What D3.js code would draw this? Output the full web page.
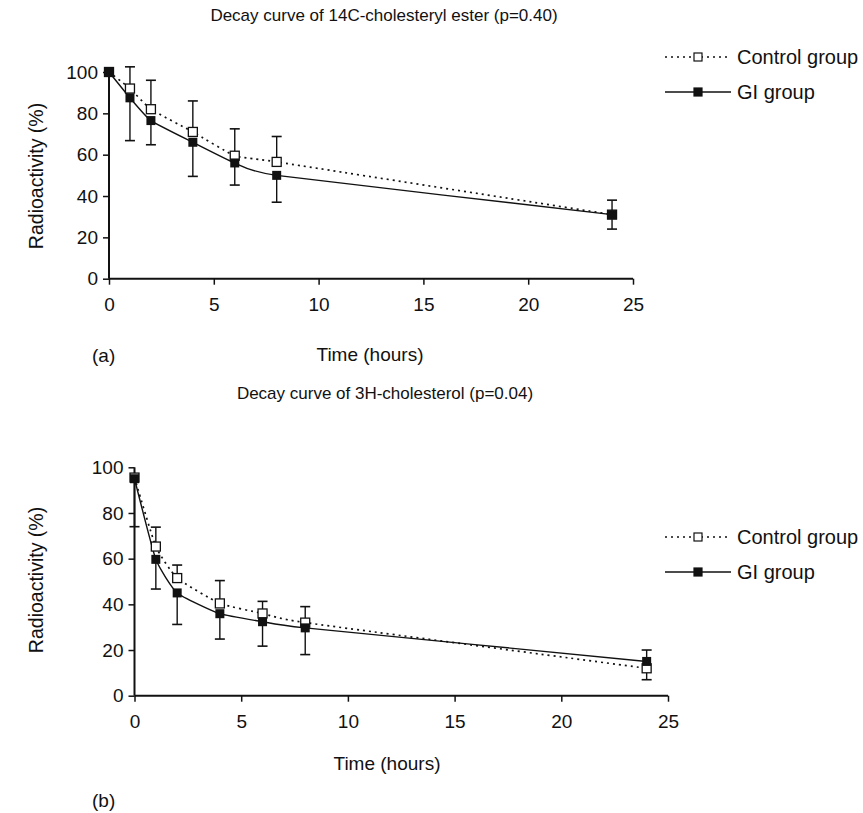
<!DOCTYPE html>
<html>
<head>
<meta charset="utf-8">
<script src="https://cdn.jsdelivr.net/npm/d3@7"></script>
<style>
  body { margin: 0; background: #fff; }
  svg text { font-family: "Liberation Sans", Arial, sans-serif; fill: #111; }
</style>
</head>
<body>
<div id="chart"></div>
<script>
/** sampling times (hours), shared by both panels */
const times = [0, 1, 2, 4, 6, 8, 24];
const xTicks = [0, 5, 10, 15, 20, 25];
const yTicks = [0, 20, 40, 60, 80, 100];
const seriesNames = ["Control group", "GI group"];

/** panel (a): 14C-cholesteryl ester */
const ctrlA = [100, 92, 82, 71, 59.5, 56.5, 31];
const giA = [100, 87.5, 76.5, 66, 56, 50, 31];
const ctrlErrA = [0, 10.5, 14, 15, 13, 12.3, 7];
const giErrA = [0, 20.7, 11.7, 16.5, 10.7, 13, 7];

/** panel (b): 3H-cholesterol */
const ctrlB = [95.5, 65.3, 51.5, 40.4, 36, 32, 12];
const giB = [95, 59.7, 45, 35.9, 32.4, 29.7, 15];
const ctrlErrB = [0, 8.5, 5.7, 10, 5.3, 7, 5];
const giErrB = [21, 13, 13.8, 11.1, 10.7, 11.7, 5];

let width = 863, height = 813;

let svg = d3.select('#chart').append('svg')
    .attr('width', width)
    .attr('height', height);

/** draw one panel */
function drawPanel(p) {
    let xScale = d3.scaleLinear().domain([0, 25]).range([p.x0, p.x1]);
    let yScale = d3.scaleLinear().domain([0, 100]).range([p.y0, p.y1]);

    let g = svg.append('g');

    /** title */
    g.append('text')
        .attr('x', p.titleX).attr('y', p.titleY)
        .attr('text-anchor', 'middle')
        .style('font-size', '17px')
        .text(p.title);

    /** axes */
    let xAxis = d3.axisBottom(xScale).tickValues(xTicks).tickSize(6).tickPadding(13);
    let yAxis = d3.axisLeft(yScale).tickValues(yTicks).tickSize(6).tickPadding(5);

    let gx = g.append('g')
        .attr('transform', `translate(0, ${p.y0})`)
        .call(xAxis);
    let gy = g.append('g')
        .attr('transform', `translate(${p.x0}, 0)`)
        .call(yAxis);

    [gx, gy].forEach(function (a) {
        a.select('.domain').attr('stroke', '#111').attr('stroke-width', 2);
        a.selectAll('.tick line').attr('stroke', '#111').attr('stroke-width', 1.5);
        a.selectAll('.tick text').style('font-size', '19px').style('font-family', '"Liberation Sans", Arial, sans-serif').attr('fill', '#111');
    });
    // plain axis line, no end stubs
    gx.select('.domain').attr('d', `M${p.x0},0H${p.x1}`);
    gy.select('.domain').attr('d', `M0,${p.y0}V${p.y1}`);

    /** axis titles */
    g.append('text')
        .attr('x', p.xTitleX).attr('y', p.xTitleY)
        .attr('text-anchor', 'middle')
        .style('font-size', '19px')
        .text('Time (hours)');

    g.append('text')
        .attr('transform', `translate(${p.yTitleX}, ${p.yTitleY}) rotate(-90)`)
        .attr('text-anchor', 'middle')
        .style('font-size', '19.5px')
        .text('Radioactivity (%)');

    g.append('text')
        .attr('x', p.tagX).attr('y', p.tagY)
        .style('font-size', '19px')
        .text(p.tag);

    let ctrl = times.map(function (t, i) { return { t: t, v: p.ctrl[i], e: p.ctrlErr[i], o: p.gi[i] }; });
    let gi = times.map(function (t, i) { return { t: t, v: p.gi[i], e: p.giErr[i], o: p.ctrl[i] }; });

    /** line generator */
    let lineGen = d3.line()
        .x(function (d) { return xScale(d.t); })
        .y(function (d) { return yScale(d.v); })
        .curve(d3.curveCardinal.tension(0.55));

    g.append('path')
        .attr('d', lineGen(ctrl))
        .attr('fill', 'none')
        .attr('stroke', '#111')
        .attr('stroke-width', 1.7)
        .attr('stroke-dasharray', '2,4');

    g.append('path')
        .attr('d', lineGen(gi))
        .attr('fill', 'none')
        .attr('stroke', '#111')
        .attr('stroke-width', 1.4);

    /** error bars: each drawn away from the other group */
    function errBars(data, upIfTie) {
        data.filter(function (d) { return d.e > 0; }).forEach(function (d) {
            let up = d.v > d.o || (d.v === d.o && upIfTie);
            let end = up ? d.v + d.e : d.v - d.e;
            let cx = xScale(d.t);
            g.append('line')
                .attr('x1', cx).attr('x2', cx)
                .attr('y1', yScale(d.v)).attr('y2', yScale(end))
                .attr('stroke', '#111').attr('stroke-width', 1.4);
            g.append('line')
                .attr('x1', cx - 5).attr('x2', cx + 5)
                .attr('y1', yScale(end)).attr('y2', yScale(end))
                .attr('stroke', '#111').attr('stroke-width', 1.6);
        });
    }
    errBars(ctrl, true);
    errBars(gi, false);

    /** markers */
    let s = 9;
    g.selectAll('.ctrlPt').data(ctrl).enter()
        .append('rect')
        .attr('x', function (d) { return xScale(d.t) - s / 2; })
        .attr('y', function (d) { return yScale(d.v) - s / 2; })
        .attr('width', s).attr('height', s)
        .attr('fill', '#fff').attr('stroke', '#111').attr('stroke-width', 1.3);

    g.selectAll('.giPt').data(gi).enter()
        .append('rect')
        .attr('x', function (d) { return xScale(d.t) - s / 2; })
        .attr('y', function (d) { return yScale(d.v) - s / 2; })
        .attr('width', s).attr('height', s)
        .attr('fill', '#111');

    /** legend */
    let lg = g.append('g').attr('transform', `translate(${p.legX}, ${p.legY})`);
    seriesNames.forEach(function (name, i) {
        let y = i * 35;
        lg.append('line')
            .attr('x1', 0).attr('x2', 66).attr('y1', y).attr('y2', y)
            .attr('stroke', '#111')
            .attr('stroke-width', i === 0 ? 1.6 : 1.4)
            .attr('stroke-dasharray', i === 0 ? '2,4' : null);
        lg.append('rect')
            .attr('x', 33 - 4).attr('y', y - 4)
            .attr('width', 8).attr('height', 8)
            .attr('fill', i === 0 ? '#fff' : '#111')
            .attr('stroke', '#111').attr('stroke-width', 1.2);
        lg.append('text')
            .attr('x', 72).attr('y', y + 7)
            .style('font-size', '20px')
            .text(name);
    });
}

drawPanel({
    title: 'Decay curve of 14C-cholesteryl ester (p=0.40)',
    titleX: 384, titleY: 21,
    x0: 109, x1: 633, y0: 278.7, y1: 72,
    ctrl: ctrlA, gi: giA, ctrlErr: ctrlErrA, giErr: giErrA,
    xTitleX: 370, xTitleY: 361,
    yTitleX: 43, yTitleY: 176,
    tag: '(a)', tagX: 92, tagY: 362,
    legX: 665, legY: 57
});

drawPanel({
    title: 'Decay curve of 3H-cholesterol (p=0.04)',
    titleX: 385, titleY: 399,
    x0: 134.5, x1: 668, y0: 695.7, y1: 467.3,
    ctrl: ctrlB, gi: giB, ctrlErr: ctrlErrB, giErr: giErrB,
    xTitleX: 387, xTitleY: 770,
    yTitleX: 43, yTitleY: 580,
    tag: '(b)', tagX: 92, tagY: 807,
    legX: 665, legY: 537
});
</script>
</body>
</html>
